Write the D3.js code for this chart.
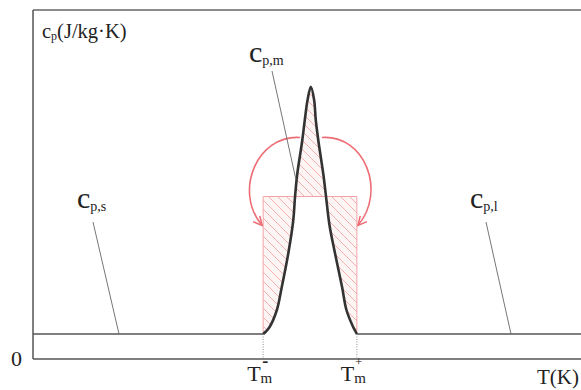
<!DOCTYPE html>
<html>
<head>
<meta charset="utf-8">
<script src="https://cdn.jsdelivr.net/npm/d3@7"></script>
<style>
  body { margin: 0; background: #fff; }
</style>
</head>
<body>
<div id="chart"></div>
<script>
// temperature (arbitrary units) and apparent heat capacity
var tempK = [0, 42.0, 42.5, 43.2, 44.5, 45.4, 46.6, 47.5, 47.8, 48.2, 49.1, 49.6, 50.1, 50.7, 51.3, 51.6, 52.1, 53.0, 53.5, 54.1, 55.1, 56.4, 57.2, 58.4, 58.85, 59.1, 100];
var cpVals = [1.0, 1.0, 1.1, 1.29, 1.96, 2.88, 4.24, 5.56, 6.44, 7.36, 8.69, 9.56, 10.36, 10.89, 10.36, 9.56, 8.69, 7.36, 6.44, 5.36, 4.24, 2.88, 1.96, 1.29, 1.1, 1.0, 1.0];
var meltRange = [42.0, 59.1];   // T_m^- , T_m^+
var cpEffective = 6.5;          // height of equivalent rectangle
var cpSolid = 1.0, cpLiquid = 1.0;
var tickZero = ["0"];

var W = 581, H = 390;
var margin = { top: 10, right: 0, bottom: 31, left: 33 };
var serif = "'Liberation Serif'";

var x = d3.scaleLinear().domain([0, 100]).range([margin.left, W - margin.right]);
var y = d3.scaleLinear().domain([0, 14]).range([H - margin.bottom, margin.top - 1]);

var svg = d3.select("#chart").append("svg")
  .attr("width", W).attr("height", H);

var defs = svg.append("defs");

// hatch
var pat = defs.append("pattern")
  .attr("id", "hatch")
  .attr("patternUnits", "userSpaceOnUse")
  .attr("width", 9).attr("height", 9);
pat.append("rect").attr("width", 9).attr("height", 9).attr("fill", "#fdf4f4");
pat.append("path")
  .attr("d", "M0,0 L9,9 M-2,7 L2,11 M7,-2 L11,2")
  .attr("stroke", "#f0a8a8").attr("stroke-width", 0.9);

defs.append("marker")
  .attr("id", "head")
  .attr("viewBox", "0 0 10 10")
  .attr("refX", 9).attr("refY", 5)
  .attr("markerUnits", "userSpaceOnUse")
  .attr("markerWidth", 11).attr("markerHeight", 11)
  .attr("orient", "auto")
  .append("path")
  .attr("d", "M1,1 L9,5 L1,9")
  .attr("fill", "none").attr("stroke", "#ee6d75").attr("stroke-width", 1.4);

var pts = tempK.map(function (t, i) { return { t: t, cp: cpVals[i] }; });
var inMelt = pts.filter(function (d) { return d.t >= meltRange[0] && d.t <= meltRange[1]; });

// frame: left axis, top line, bottom axis
var x0 = x(0), y0 = y(0), yTop = y(14);
svg.append("line").attr("x1", x0).attr("x2", W).attr("y1", yTop + 1).attr("y2", yTop + 1)
  .attr("stroke", "#666").attr("stroke-width", 1.6);
svg.append("line").attr("x1", x0).attr("x2", x0).attr("y1", yTop + 1).attr("y2", y0)
  .attr("stroke", "#555").attr("stroke-width", 1.5);
svg.append("line").attr("x1", x0).attr("x2", W).attr("y1", y0).attr("y2", y0)
  .attr("stroke", "#555").attr("stroke-width", 1.5);

// hatched region = symmetric difference of rectangle and melting peak
var smooth = d3.curveCatmullRom.alpha(0.5);
var area = d3.area()
  .x(function (d) { return x(d.t); })
  .y0(y(cpSolid))
  .y1(function (d) { return y(d.cp); })
  .curve(smooth);
var rectPath = "M" + x(meltRange[0]) + "," + y(cpSolid) +
  "L" + x(meltRange[0]) + "," + y(cpEffective) +
  "L" + x(meltRange[1]) + "," + y(cpEffective) +
  "L" + x(meltRange[1]) + "," + y(cpSolid);
svg.append("path")
  .attr("d", rectPath + "Z" + area(inMelt))
  .attr("fill", "url(#hatch)")
  .attr("fill-rule", "evenodd");

svg.append("path")
  .attr("d", rectPath)
  .attr("fill", "none").attr("stroke", "#f4a4a8").attr("stroke-width", 1);

// dotted guides down to axis
meltRange.forEach(function (t) {
  svg.append("line")
    .attr("x1", x(t)).attr("x2", x(t))
    .attr("y1", y(cpSolid)).attr("y2", y0)
    .attr("stroke", "#777").attr("stroke-width", 0.8)
    .attr("stroke-dasharray", "1,1.5");
});

// curve
var line = d3.line()
  .x(function (d) { return x(d.t); })
  .y(function (d) { return y(d.cp); })
  .curve(smooth);
svg.append("path")
  .datum(inMelt)
  .attr("d", line)
  .attr("fill", "none").attr("stroke", "#333").attr("stroke-width", 2.6)
  .attr("stroke-linejoin", "round");
svg.append("line").attr("x1", x(0)).attr("x2", x(meltRange[0])).attr("y1", y(cpSolid)).attr("y2", y(cpSolid))
  .attr("stroke", "#555").attr("stroke-width", 1.3);
svg.append("line").attr("x1", x(meltRange[1])).attr("x2", x(100)).attr("y1", y(cpLiquid)).attr("y2", y(cpLiquid))
  .attr("stroke", "#555").attr("stroke-width", 1.3);

// red arrows (peak area folded into rectangle)
var xl = x(meltRange[0]), xr = x(meltRange[1]), yEff = y(cpEffective);
svg.append("path")
  .attr("d", "M" + (xl + 37) + "," + (yEff - 59) +
    " C" + (xl - 6) + "," + (yEff - 62) + " " + (xl - 30) + "," + (yEff - 5) + " " + (xl - 1) + "," + (yEff + 29))
  .attr("fill", "none").attr("stroke", "#ee6d75").attr("stroke-width", 1.6)
  .attr("marker-end", "url(#head)");
svg.append("path")
  .attr("d", "M" + (xr - 35) + "," + (yEff - 59) +
    " C" + (xr + 8) + "," + (yEff - 62) + " " + (xr + 30) + "," + (yEff - 5) + " " + (xr + 1) + "," + (yEff + 29))
  .attr("fill", "none").attr("stroke", "#ee6d75").attr("stroke-width", 1.6)
  .attr("marker-end", "url(#head)");

// leader lines
var leaders = [[272, 71, 296, 180], [93, 222, 119, y(cpSolid)], [486, 222, 511, y(cpLiquid)]];
leaders.forEach(function (l) {
  svg.append("line").attr("x1", l[0]).attr("y1", l[1]).attr("x2", l[2]).attr("y2", l[3])
    .attr("stroke", "#666").attr("stroke-width", 0.9);
});

function addText(px, py, size) {
  return svg.append("text").attr("x", px).attr("y", py)
    .style("font-family", serif).style("font-size", size + "px").style("fill", "#222");
}

// c_p labels
function cpLabel(px, py, sub) {
  var t = addText(px, py, 30);
  t.append("tspan").text("c");
  t.append("tspan").style("font-size", "14px").attr("dy", 3).text(sub);
}
cpLabel(77, 208, "p,s");
cpLabel(249, 62, "p,m");
cpLabel(470, 208, "p,l");

// y axis title
var yt = addText(42, 38, 20.5);
yt.append("tspan").text("c");
yt.append("tspan").style("font-size", "12px").attr("dy", 2).text("p");
yt.append("tspan").attr("dy", -2).text("(J/kg·K)");

// zero
svg.selectAll(".zero").data(tickZero).enter().append("text")
  .attr("class", "zero")
  .attr("x", 11).attr("y", y(0) + 7)
  .style("font-family", serif).style("font-size", "22px").style("fill", "#222")
  .text(function (d) { return d; });

// T_m labels (sign stacked above the subscript)
function tmLabel(t, sign) {
  var g = addText(x(t) - 16, 381, 22);
  g.append("tspan").text("T");
  g.append("tspan").style("font-size", "15px").attr("dy", 2).text("m");
  g.append("tspan")
    .attr("dx", sign === "-" ? -10 : -11).attr("dy", sign === "-" ? -16 : -17)
    .style("font-size", sign === "-" ? "18px" : "13px")
    .style("font-weight", sign === "-" ? "bold" : "normal")
    .text(sign);
}
tmLabel(meltRange[0], "-");
tmLabel(meltRange[1], "+");

addText(537, 384, 21).text("T(K)");
</script>
</body>
</html>
